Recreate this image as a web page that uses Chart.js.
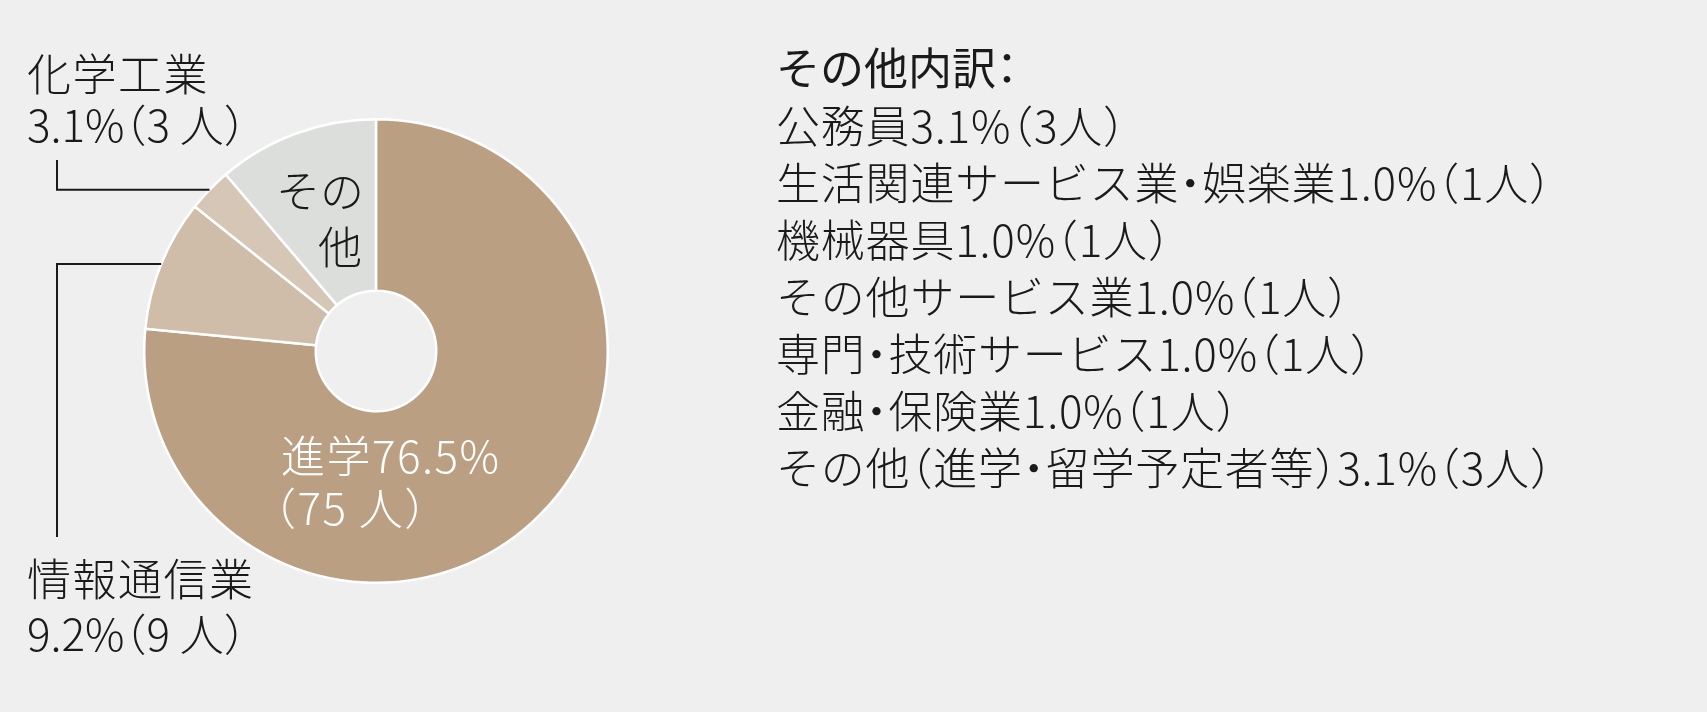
<!DOCTYPE html>
<html lang="ja">
<head>
<meta charset="utf-8">
<script src="https://cdn.jsdelivr.net/npm/chart.js@4.4.1/dist/chart.umd.min.js"></script>
<style>
  html, body { margin: 0; padding: 0; background: #efefef; }
  #wrap { position: relative; width: 1707px; height: 712px; overflow: hidden; }
  #chart { position: absolute; left: 0; top: 0; }
  .t {
    position: absolute; white-space: nowrap; line-height: 1;
    font-family: "Noto Sans CJK JP", "Noto Sans", sans-serif;
    font-size: 44px; font-weight: 300; color: #1a1a1a;
    font-feature-settings: "halt";
  }
  .lbl { letter-spacing: 1.5px; }
  .num { letter-spacing: 0; }
  .list { letter-spacing: 0.8px; }
  .white { color: #ffffff; }
  .title { font-weight: 400; }
</style>
</head>
<body>
<div id="wrap">
  <canvas id="chart" width="1707" height="712"></canvas>
</div>
<script>
// main breakdown (clockwise from 12 o'clock)
const categories = ['進学', '情報通信業', '化学工業', 'その他'];
const counts = [75, 9, 3, 11];
const percents = [76.5, 9.2, 3.1, 11.2];
const sliceColors = ['#bb9f83', '#cfbca9', '#d6c6b6', '#dcdedc'];

// "その他" breakdown list
const otherNames = ['公務員', '生活関連サービス業・娯楽業', '機械器具', 'その他サービス業',
  '専門・技術サービス', '金融・保険業', 'その他（進学・留学予定者等）'];
const otherPercents = [3.1, 1.0, 1.0, 1.0, 1.0, 1.0, 3.1];
const otherCounts = [3, 1, 1, 1, 1, 1, 3];

const wrap = document.getElementById('wrap');
function addText(str, left, top, cls) {
  const d = document.createElement('div');
  d.className = 't ' + (cls || '');
  d.textContent = str;
  d.style.left = left + 'px';
  d.style.top = top + 'px';
  wrap.appendChild(d);
  return d;
}
const pc = i => percents[i].toFixed(1) + '%';

// labels outside the ring
addText(categories[2], 27, 50, 'lbl');
addText(pc(2) + '（' + counts[2] + ' 人）', 27, 101, 'num');
addText(categories[1], 27, 555, 'lbl');
addText(pc(1) + '（' + counts[1] + ' 人）', 27, 610, 'num');

// labels inside the ring
addText(categories[0] + pc(0), 281, 432, 'lbl white');
addText('（' + counts[0] + ' 人）', 274, 484, 'lbl white');
addText('その', 276, 167, '');
addText('他', 318, 223, '');

// right-hand list
addText('その他内訳：', 776, 44, 'title');
otherNames.forEach((n, i) => {
  addText(n + otherPercents[i].toFixed(1) + '%（' + otherCounts[i] + '人）', 776, 102 + i * 57, 'list');
});

// leader lines from the outer edge of a slice to its label
const leaders = [
  { index: 2, x: 57, yEnd: 160 },
  { index: 1, x: 57, yEnd: 537 }
];
const leaderPlugin = {
  id: 'leaders',
  afterDatasetsDraw(chart) {
    const meta = chart.getDatasetMeta(0);
    const ctx = chart.ctx;
    ctx.save();
    ctx.strokeStyle = '#1a1a1a';
    ctx.lineWidth = 2;
    leaders.forEach(l => {
      const a = meta.data[l.index];
      const p = a.getProps(['x', 'y', 'startAngle', 'endAngle', 'outerRadius'], true);
      const mid = (p.startAngle + p.endAngle) / 2;
      const px = p.x + Math.cos(mid) * p.outerRadius;
      const py = p.y + Math.sin(mid) * p.outerRadius;
      ctx.beginPath();
      ctx.moveTo(px, py);
      ctx.lineTo(l.x, py);
      ctx.lineTo(l.x, l.yEnd);
      ctx.stroke();
    });
    ctx.restore();
  }
};

new Chart(document.getElementById('chart'), {
  type: 'doughnut',
  data: {
    labels: categories,
    datasets: [{
      data: counts,
      backgroundColor: sliceColors,
      borderColor: '#ffffff',
      borderWidth: 2.5
    }]
  },
  options: {
    responsive: false,
    animation: false,
    devicePixelRatio: 1,
    cutout: '26%',
    layout: { padding: { left: 143, top: 118, right: 1098, bottom: 128 } },
    plugins: {
      legend: { display: false },
      tooltip: { enabled: false }
    }
  },
  plugins: [leaderPlugin]
});
</script>
</body>
</html>
